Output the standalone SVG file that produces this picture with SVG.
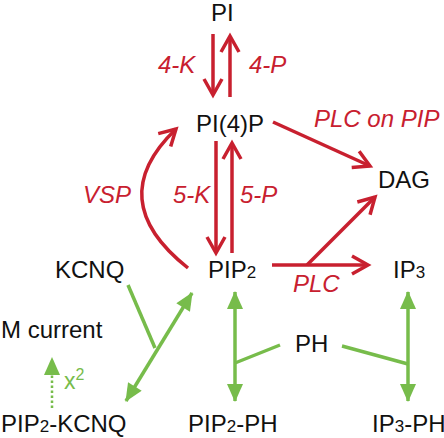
<svg xmlns="http://www.w3.org/2000/svg" width="444" height="438" viewBox="0 0 444 438">
<style>
.t{font-family:"Liberation Sans",Arial,sans-serif;font-size:24px;fill:#111}
.r{font-family:"Liberation Sans",Arial,sans-serif;font-size:24px;fill:#C8202F;font-style:italic}
.g{font-family:"Liberation Sans",Arial,sans-serif;font-size:23px;fill:#77BC4B}
.rl{fill:none;stroke:#C8202F;stroke-width:3.5}
.gl{fill:none;stroke:#77BC4B;stroke-width:3.5}
</style>
<defs>
<marker id="ra" markerUnits="userSpaceOnUse" orient="auto" markerWidth="30" markerHeight="30" refX="0" refY="0" viewBox="-20 -15 30 30" overflow="visible">
<path d="M-16,-9 L0,0 L-16,9" fill="none" stroke="#C8202F" stroke-width="3.5" stroke-linejoin="miter"/>
</marker>
<marker id="ga" markerUnits="userSpaceOnUse" orient="auto-start-reverse" markerWidth="30" markerHeight="30" refX="0" refY="0" viewBox="-20 -15 30 30" overflow="visible">
<path d="M-17,-8 L1,0 L-17,8 Z" fill="#77BC4B"/>
</marker>
</defs>
<g id="connectors">
<line class="rl" x1="213" y1="34" x2="213" y2="95" marker-end="url(#ra)"/>
<line class="rl" x1="230" y1="97" x2="230" y2="36" marker-end="url(#ra)"/>
<line class="rl" x1="216" y1="141" x2="216" y2="253" marker-end="url(#ra)"/>
<line class="rl" x1="232" y1="253" x2="232" y2="143" marker-end="url(#ra)"/>
<line class="rl" x1="273" y1="122" x2="370" y2="166" marker-end="url(#ra)"/>
<path class="rl" d="M188,268 Q102,200 176,129" marker-end="url(#ra)"/>
<line class="rl" x1="272" y1="265" x2="368" y2="265" marker-end="url(#ra)"/>
<line class="rl" x1="307" y1="265" x2="375" y2="197" marker-end="url(#ra)"/>
<line class="gl" x1="128" y1="285" x2="155" y2="348"/>
<line class="gl" x1="192" y1="293" x2="126" y2="401" marker-start="url(#ga)" marker-end="url(#ga)"/>
<line class="gl" x1="235" y1="292" x2="235" y2="401" marker-start="url(#ga)" marker-end="url(#ga)"/>
<line class="gl" x1="280" y1="345" x2="235" y2="363"/>
<line class="gl" x1="408" y1="292" x2="408" y2="401" marker-start="url(#ga)" marker-end="url(#ga)"/>
<line class="gl" x1="342" y1="346" x2="408" y2="364"/>
<line x1="52" y1="408" x2="52" y2="358" stroke="#77BC4B" stroke-width="2.5" stroke-dasharray="2.5,2.5" marker-end="url(#ga)"/>
</g>
<g id="labels">
<text class="r" x="158" y="73">4-K</text>
<text class="r" x="249" y="73">4-P</text>
<text class="r" x="314" y="127">PLC on PIP</text>
<text class="r" x="83" y="203">VSP</text>
<text class="r" x="173" y="203">5-K</text>
<text class="r" x="240" y="203">5-P</text>
<text class="r" x="293" y="292">PLC</text>
<text class="g" x="64" y="389">x<tspan font-size="16" dy="-9">2</tspan></text>
</g>
<g id="PI"><text class="t" x="211" y="21">PI</text></g>
<g id="PI4P"><text class="t" x="196" y="132">PI(4)P</text></g>
<g id="DAG"><text class="t" x="378" y="188">DAG</text></g>
<g id="KCNQ"><text class="t" x="55" y="278">KCNQ</text></g>
<g id="PIP2"><text class="t" x="208" y="278">PIP<tspan font-size="17">2</tspan></text></g>
<g id="IP3"><text class="t" x="393" y="278">IP<tspan font-size="17">3</tspan></text></g>
<g id="Mcurrent"><text class="t" x="1" y="338">M current</text></g>
<g id="PH"><text class="t" x="295" y="352">PH</text></g>
<g id="PIP2KCNQ"><text class="t" x="1" y="432">PIP<tspan font-size="17">2</tspan>-KCNQ</text></g>
<g id="PIP2PH"><text class="t" x="188" y="432">PIP<tspan font-size="17">2</tspan>-PH</text></g>
<g id="IP3PH"><text class="t" x="372" y="432">IP<tspan font-size="17">3</tspan>-PH</text></g>
</svg>
